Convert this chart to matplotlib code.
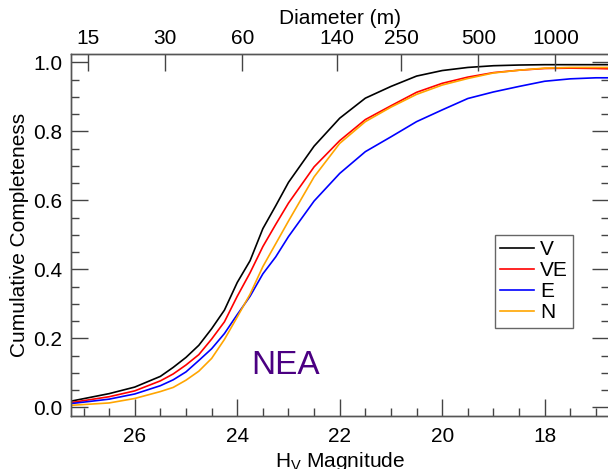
import numpy as np
import matplotlib
matplotlib.use("Agg")
import matplotlib.pyplot as plt

plt.rcParams['font.family'] = ['Liberation Sans', 'DejaVu Sans']
plt.rcParams['mathtext.fontset'] = 'custom'
plt.rcParams['mathtext.rm'] = 'Liberation Sans'
plt.rcParams['mathtext.it'] = 'Liberation Sans:italic'

# absolute magnitude grid
H = [27.25, 26.5, 26.0, 25.5, 25.25, 25.0, 24.75, 24.5, 24.25, 24.0, 23.75, 23.5,
     23.25, 23.0, 22.5, 22.0, 21.5, 21.0, 20.5, 20.0, 19.5, 19.0, 18.5, 18.0,
     17.5, 17.0, 16.75]

comp_V = [0.018, 0.040, 0.059, 0.090, 0.116, 0.145, 0.180, 0.228, 0.282, 0.362,
          0.425, 0.518, 0.584, 0.652, 0.757, 0.838, 0.896, 0.930, 0.960, 0.976,
          0.985, 0.990, 0.992, 0.993, 0.993, 0.993, 0.993]
comp_VE = [0.014, 0.031, 0.048, 0.077, 0.097, 0.123, 0.153, 0.198, 0.248, 0.322,
           0.390, 0.466, 0.530, 0.592, 0.697, 0.773, 0.834, 0.874, 0.913, 0.939,
           0.957, 0.970, 0.977, 0.982, 0.983, 0.982, 0.981]
comp_E = [0.011, 0.024, 0.039, 0.063, 0.080, 0.103, 0.136, 0.170, 0.214, 0.269,
          0.322, 0.387, 0.436, 0.495, 0.598, 0.678, 0.741, 0.784, 0.828, 0.862,
          0.895, 0.914, 0.930, 0.945, 0.952, 0.955, 0.955]
comp_N = [0.006, 0.013, 0.026, 0.046, 0.058, 0.079, 0.105, 0.142, 0.197, 0.262,
          0.328, 0.408, 0.474, 0.540, 0.668, 0.765, 0.828, 0.870, 0.907, 0.934,
          0.953, 0.969, 0.977, 0.983, 0.985, 0.985, 0.985]

series = [("V", comp_V, "black"), ("VE", comp_VE, "red"),
          ("E", comp_E, "blue"), ("N", comp_N, "orange")]

# top axis: diameters (m), albedo assumed
diam_ticks = [15, 30, 60, 140, 250, 500, 1000]
albedo = 0.135

def h_of_d(d_m):
    d_km = np.asarray(d_m, dtype=float) / 1000.0
    return 5.0 * np.log10(1329.0 / np.sqrt(albedo) / d_km)

fs = 15
fig = plt.figure(figsize=(6.08, 4.69), dpi=100)
ax = fig.add_axes([0.1163, 0.1136, 0.8849, 0.7713])

for label, vals, col in series:
    ax.plot(H, vals, color=col, lw=1.2, label=label)

ax.set_xlim(27.25, 16.75)
ax.set_ylim(-0.024, 1.024)
ax.set_xticks([26, 24, 22, 20, 18])
ax.set_xticks(np.arange(27.0, 16.9, -0.5), minor=True)
ax.set_yticks([0.0, 0.2, 0.4, 0.6, 0.8, 1.0])
ax.set_yticks(np.arange(0.0, 1.001, 0.05), minor=True)
ax.set_yticklabels(["0.0", "0.2", "0.4", "0.6", "0.8", "1.0"])
ax.tick_params(which='both', direction='in', right=True, top=False,
               labelsize=fs, width=1, color='#444444')
ax.tick_params(which='major', length=12.5)
ax.tick_params(which='minor', length=6)
ax.tick_params(axis='x', pad=8)
ax.tick_params(axis='y', pad=6)

ax.set_xlabel(r'H$_{\rm V}$ Magnitude', fontsize=fs, labelpad=3)
ax.set_ylabel('Cumulative Completeness', fontsize=fs, labelpad=3)

ax2 = ax.twiny()
ax2.set_xlim(ax.get_xlim())
ax2.set_xticks(h_of_d(diam_ticks))
ax2.set_xticklabels([str(d) for d in diam_ticks])
ax2.tick_params(direction='in', length=12.5, width=1, color='#444444',
                labelsize=fs, pad=4)
ax2.set_xlabel('Diameter (m)', fontsize=fs, labelpad=4)

for a in (ax, ax2):
    for sp in a.spines.values():
        sp.set_color('#555555')
        sp.set_linewidth(1)

leg = ax.legend(loc='upper left', bbox_to_anchor=(0.789, 0.5), fontsize=fs,
                handlelength=1.6, handletextpad=0.3, borderpad=0.25,
                labelspacing=0.1, borderaxespad=0, fancybox=False,
                framealpha=1, edgecolor='#666666')
leg.get_frame().set_linewidth(1)

ax.text(0.336, 0.115, 'NEA', transform=ax.transAxes, fontsize=24,
        color='#4b0082', va='baseline', ha='left')

fig.savefig('out.png', dpi=100)
